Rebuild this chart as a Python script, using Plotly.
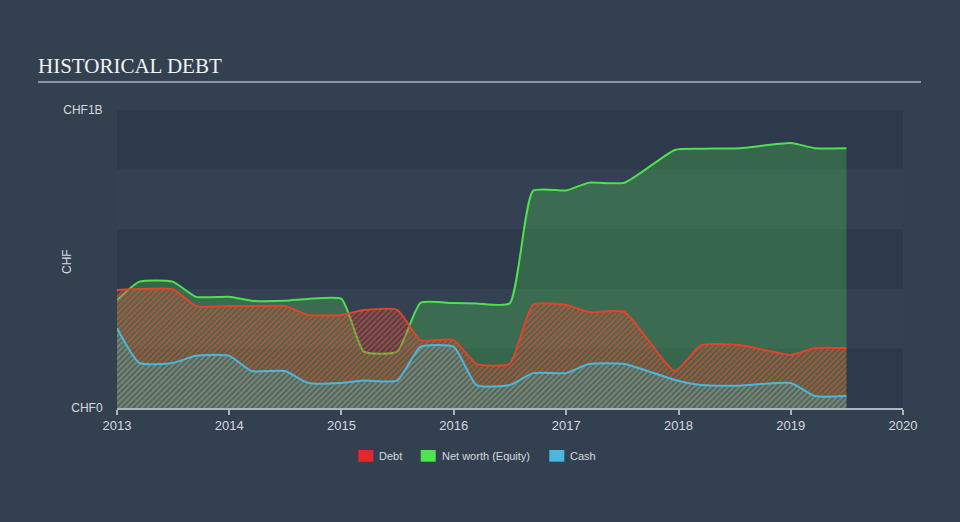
import plotly.graph_objects as go

dates = [
    "2013-01-01", "2013-03-15", "2013-07-01", "2013-09-15",
    "2014-01-01", "2014-03-15", "2014-07-01", "2014-09-15",
    "2015-01-01", "2015-03-15", "2015-07-01", "2015-09-15",
    "2016-01-01", "2016-03-15", "2016-07-01", "2016-09-15",
    "2017-01-01", "2017-03-15", "2017-07-10", "2017-12-20",
    "2018-03-15", "2018-07-20", "2019-01-01", "2019-03-20",
    "2019-07-01",
]

# values in CHF billions
equity = [0.362, 0.424, 0.424, 0.373, 0.373, 0.360, 0.360, 0.366,
          0.366, 0.189, 0.189, 0.353, 0.352, 0.351, 0.351, 0.729,
          0.730, 0.756, 0.756, 0.866, 0.870, 0.872, 0.889, 0.872,
          0.872]
debt = [0.396, 0.399, 0.399, 0.342, 0.342, 0.342, 0.342, 0.312,
        0.312, 0.329, 0.329, 0.228, 0.228, 0.148, 0.148, 0.346,
        0.346, 0.322, 0.322, 0.124, 0.211, 0.211, 0.178, 0.201,
        0.201]
cash = [0.268, 0.151, 0.151, 0.175, 0.175, 0.124, 0.124, 0.084,
        0.084, 0.092, 0.092, 0.205, 0.205, 0.077, 0.077, 0.117,
        0.117, 0.148, 0.148, 0.094, 0.077, 0.075, 0.084, 0.040,
        0.040]

year_ticks = ["2013", "2014", "2015", "2016", "2017", "2018", "2019", "2020"]
y_ticks = [0, 1]
y_tick_text = ["CHF0", "CHF1B"]

legend_names = ["Debt", "Net worth (Equity)", "Cash"]
legend_colors = ["#e8262a", "#4ee44e", "#4ab8dc"]

TXT = "#d5d9de"
FONT = "Liberation Sans, Arial, sans-serif"
SM = 0.5

fig = go.Figure()

fig.add_trace(go.Scatter(
    x=dates, y=equity, mode="lines", name="Net worth (Equity)",
    line=dict(color="#4fe04f", width=2, shape="spline", smoothing=SM),
    fill="tozeroy", fillcolor="rgba(80,220,80,0.27)",
    showlegend=False, hoverinfo="skip",
))
fig.add_trace(go.Scatter(
    x=dates, y=debt, mode="lines", name="Debt",
    line=dict(color="#e2432a", width=2, shape="spline", smoothing=SM),
    fill="tozeroy", fillcolor="rgba(220,50,60,0.16)",
    fillpattern=dict(shape="/", fgcolor="#d8552e", fgopacity=0.65,
                     bgcolor="rgba(220,50,60,0.16)", size=4, solidity=0.45),
    showlegend=False, hoverinfo="skip",
))
fig.add_trace(go.Scatter(
    x=dates, y=cash, mode="lines", name="Cash",
    line=dict(color="#4ab8dc", width=2, shape="spline", smoothing=SM),
    fill="tozeroy", fillcolor="rgba(60,150,150,0.12)",
    fillpattern=dict(shape="/", fgcolor="#5e9ea8", fgopacity=0.6,
                     bgcolor="rgba(60,150,150,0.12)", size=4, solidity=0.5),
    showlegend=False, hoverinfo="skip",
))

shapes = []
for y0, y1 in [(0.0, 0.2), (0.4, 0.6), (0.8, 1.0)]:
    shapes.append(dict(type="rect", xref="paper", yref="y", x0=0, x1=1, y0=y0, y1=y1,
                       fillcolor="#2d3a4b", line=dict(width=0), layer="below"))
# title underline
shapes.append(dict(type="line", xref="paper", yref="paper", x0=-0.1005, x1=1.0229,
                   y0=1.094, y1=1.094, line=dict(color="#aab2bc", width=1.5)))

annotations = [
    dict(text="HISTORICAL DEBT", xref="paper", yref="paper", x=-0.1031, y=1.148,
         xanchor="left", yanchor="middle", showarrow=False,
         font=dict(family="Liberation Serif, Times New Roman, serif", size=21, color="#f0f2f4")),
    dict(text="CHF", xref="paper", yref="paper", x=-0.0636, y=0.49,
         xanchor="center", yanchor="middle", showarrow=False, textangle=-90,
         font=dict(size=12, color=TXT)),
]

# custom legend (square swatches + labels)
sq_x0 = [0.3070, 0.3864, 0.5500]
txt_x = [0.3310, 0.4104, 0.5740]
for nm, col, sx, tx in zip(legend_names, legend_colors, sq_x0, txt_x):
    shapes.append(dict(type="rect", xref="paper", yref="paper", x0=sx, x1=sx + 0.0191,
                       y0=-0.1802, y1=-0.1409, fillcolor=col, line=dict(width=0)))
    annotations.append(dict(text=nm, xref="paper", yref="paper", x=tx, y=-0.1611,
                            xanchor="left", yanchor="middle", showarrow=False,
                            font=dict(size=11, color=TXT)))

fig.update_layout(
    width=960, height=522,
    margin=dict(l=117, r=57, t=110, b=114),
    paper_bgcolor="#334050",
    plot_bgcolor="#334152",
    font=dict(family=FONT, color=TXT, size=12),
    shapes=shapes,
    annotations=annotations,
    showlegend=False,
)

fig.update_xaxes(
    type="date", range=["2013-01-01", "2020-01-01"],
    tickvals=[f"{y}-01-01" for y in year_ticks], ticktext=year_ticks,
    showgrid=False, zeroline=False,
    showline=True, linecolor="#aab4be", linewidth=1.5,
    ticks="outside", ticklen=5, tickcolor="#aab4be", tickwidth=1.5,
    tickfont=dict(size=13, color=TXT),
)
fig.update_yaxes(
    range=[0, 1.0], tickvals=y_ticks, ticktext=y_tick_text,
    showgrid=False, zeroline=False, showline=False,
    ticks="outside", ticklen=11, tickcolor="rgba(0,0,0,0)",
    tickfont=dict(size=12, color=TXT),
)

fig.write_html("out.html")
